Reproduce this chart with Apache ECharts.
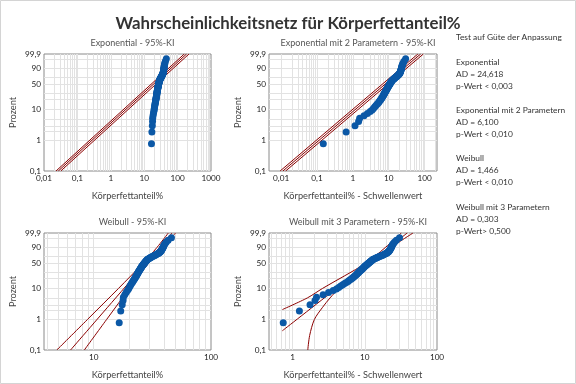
<!DOCTYPE html>
<html><head><meta charset="utf-8">
<script src="https://cdn.jsdelivr.net/npm/echarts@6/dist/echarts.min.js"></script>
<style>html,body{margin:0;padding:0;background:#fff}#c{width:576px;height:384px}</style>
</head><body><div id="c"></div><script>
// ---- data ----
const bodyFat = [16.5,17.0,17.5,17.8,17.9,18.4,18.9,19.4,19.8,20.1,20.4,20.7,21.0,21.3,21.6,21.8,22.1,22.3,22.5,22.7,
22.9,23.1,23.3,23.5,23.6,23.8,23.9,24.1,24.2,24.4,24.6,24.7,24.9,25.0,25.2,25.3,25.5,25.6,25.8,25.9,
26.1,26.3,26.5,26.6,26.8,27.0,27.2,27.3,27.5,27.7,27.9,28.1,28.3,28.5,28.7,28.9,29.4,29.8,30.2,30.5,
30.9,31.4,31.9,32.4,32.9,33.4,33.9,34.4,35.0,35.5,36.0,36.4,36.8,37.0,37.3,37.6,37.8,38.1,38.3,38.5,
38.8,39.0,39.3,39.5,39.8,40.2,40.8,41.6,43.1,46.0];
const thresholdExp2 = 16.35;
const thresholdWeib3 = 15.76;
const percentLabels = [0.1, 1, 10, 50, 90, 99.9];
const percentGrid = [1, 2, 3, 5, 10, 20, 30, 50, 70, 90, 99];
// fitted lines and 95% CI bands, read as [x, percent]
const exp1Fit = [[0.0268, 0.1], [185, 99.9]];
const exp1Lower = [[0.0229, 0.1], [158, 99.9]];
const exp1Upper = [[0.0317, 0.1], [219, 99.9]];
const exp2Fit = [[0.0112, 0.1], [77.4, 99.9]];
const exp2Lower = [[0.0094, 0.1], [65, 99.9]];
const exp2Upper = [[0.0134, 0.1], [92.5, 99.9]];
const weibFit = [[6.35, 0.1], [46.5, 99.9]];
const weibLower = [[4.85, 0.1], [8.85, 1], [16.29, 10], [26.24, 50], [34.58, 90], [43.27, 99.9]];
const weibUpper = [[8.32, 0.1], [12.89, 1], [20.19, 10], [29.27, 50], [38.14, 90], [49.98, 99.9]];
const weib3Fit = [[0.718, 0.425], [38.7, 99.9]];
const weib3Lower = [[0.72, 2.1], [1.6, 5], [2.6, 10], [10.2, 50], [19.2, 90], [32.0, 99.9]];
const weib3Upper = [[1.62, 0.1], [1.72, 0.3], [2.0, 1], [2.6, 2.5], [3.3, 5], [4.4, 10], [11.9, 50], [23.0, 90], [46.5, 99.9]];
const gofText = [
  ['Test auf Güte der Anpassung', 37],
  ['Exponential', 62], ['AD = 24,618', 74], ['p-Wert < 0,003', 86],
  ['Exponential mit 2 Parametern', 110], ['AD = 6,100', 122], ['p-Wert < 0,010', 134],
  ['Weibull', 158], ['AD = 1,466', 170], ['p-Wert < 0,010', 182],
  ['Weibull mit 3 Parametern', 207], ['AD = 0,303', 219], ['p-Wert> 0,500', 231]
];
// ---- chart ----
const U = p => Math.log(-Math.log(1 - p / 100));
const UMIN = U(0.1), UMAX = U(99.9);
const n = bodyFat.length;
const FONT = 'Lato, "Open Sans", sans-serif';
const RED = '#8b0000';
const fmtNum = v => String(parseFloat(v.toPrecision(6))).replace('.', ',');
const fmtPct = u => { let best = percentLabels[0]; percentLabels.forEach(p => { if (Math.abs(U(p) - u) < Math.abs(U(best) - u)) best = p; }); return String(best).replace('.', ','); };

const panels = [
  {left: 44, top: 54, width: 167, height: 117, xmin: 0.01, xmax: 1000, shift: 0, lines: [exp1Lower, exp1Fit, exp1Upper], smooth: false,
   title: 'Exponential - 95%-KI', xName: 'Körperfettanteil%'},
  {left: 269, top: 54, width: 168, height: 117, xmin: 0.0046, xmax: 222, shift: thresholdExp2, lines: [exp2Lower, exp2Fit, exp2Upper], smooth: false,
   title: 'Exponential mit 2 Parametern - 95%-KI', xName: 'Körperfettanteil% - Schwellenwert'},
  {left: 44, top: 233, width: 167, height: 117, xmin: 3.77, xmax: 100, shift: 0, lines: [weibLower, weibFit, weibUpper], smooth: 0.3,
   title: 'Weibull - 95%-KI', xName: 'Körperfettanteil%'},
  {left: 269, top: 233, width: 168, height: 117, xmin: 0.47, xmax: 100, shift: thresholdWeib3, lines: [weib3Lower, weib3Fit, weib3Upper], smooth: 0.3,
   title: 'Weibull mit 3 Parametern - 95%-KI', xName: 'Körperfettanteil% - Schwellenwert'}
];

const grid = [], xAxis = [], yAxis = [], series = [], title = [];
title.push({text: 'Wahrscheinlichkeitsnetz für Körperfettanteil%', left: 283, top: 10, textAlign: 'center',
  textStyle: {fontFamily: FONT, fontSize: 16.8, fontWeight: 'bold', color: '#333'}});
panels.forEach((P, i) => {
  grid.push({left: P.left, top: P.top, width: P.width, height: P.height, show: true, borderColor: '#8a8a8a', borderWidth: 1, backgroundColor: 'transparent'});
  title.push({text: P.title, left: P.left + P.width / 2, top: P.top - 20, textAlign: 'center',
    textStyle: {fontFamily: FONT, fontSize: 9, fontWeight: 'normal', color: '#555'}});
  const decades = [];
  for (let k = Math.floor(Math.log10(P.xmin)); k <= Math.ceil(Math.log10(P.xmax)); k++) decades.push(Math.pow(10, k));
  xAxis.push({type: 'log', logBase: 10, gridIndex: i, min: P.xmin, max: P.xmax,
    axisLine: {show: false}, axisTick: {show: false}, splitLine: {show: false}, minorSplitLine: {show: false},
    axisLabel: {customValues: decades.filter(v => v >= P.xmin * 0.999 && v <= P.xmax * 1.001), formatter: v => fmtNum(v),
      fontFamily: FONT, fontSize: 8.2, color: '#222', margin: 3, showMinLabel: true, showMaxLabel: true, hideOverlap: false},
    name: P.xName, nameLocation: 'middle', nameGap: 21, nameTextStyle: {fontFamily: FONT, fontSize: 9.2, color: '#444'}});
  yAxis.push({type: 'value', gridIndex: i, min: UMIN, max: UMAX,
    axisLine: {show: false}, axisTick: {show: false}, splitLine: {show: false},
    axisLabel: {customValues: percentLabels.map(U), formatter: v => fmtPct(v), fontFamily: FONT, fontSize: 8.2, color: '#222', margin: 3,
      showMinLabel: true, showMaxLabel: true, hideOverlap: false},
    name: 'Prozent', nameLocation: 'middle', nameGap: 26, nameTextStyle: {fontFamily: FONT, fontSize: 9.2, color: '#444'}});
  const ml = [];
  decades.forEach(d => { for (let m = 1; m <= 9; m++) { const v = d * m; if (v > P.xmin * 1.0001 && v < P.xmax * 0.9999) ml.push({xAxis: v}); } });
  percentGrid.forEach(p => ml.push({yAxis: U(p)}));
  series.push({type: 'line', xAxisIndex: i, yAxisIndex: i, data: [[P.xmin, UMIN]], symbol: 'none', lineStyle: {opacity: 0}, silent: true, z: 1,
    markLine: {silent: true, z: 1, symbol: ['none', 'none'], label: {show: false}, lineStyle: {color: '#e2e2e2', width: 1, type: 'solid'}, data: ml, animation: false}});
  P.lines.forEach(L => series.push({type: 'line', xAxisIndex: i, yAxisIndex: i, data: L.map(([x, p]) => [x, U(p)]), smooth: P.smooth,
    symbol: 'none', lineStyle: {color: RED, width: 1}, z: 3, clip: true}));
  series.push({type: 'scatter', xAxisIndex: i, yAxisIndex: i, symbolSize: 7, itemStyle: {color: '#0b58a6', opacity: 1}, z: 4,
    data: bodyFat.map((d, j) => [d - P.shift, U(100 * (j + 1 - 0.3) / (n + 0.4))])});
});
const graphic = [{type: 'rect', shape: {x: 0.5, y: 0.5, width: 575, height: 383}, style: {fill: 'none', stroke: '#d4d4d4', lineWidth: 1}, silent: true}];
gofText.forEach(([t, y]) => graphic.push({type: 'text', x: 456, y: y, style: {text: t, fontFamily: FONT, fontSize: 8.4, fill: '#333', textVerticalAlign: 'middle'}}));
const chart = echarts.init(document.getElementById('c'), null, {renderer: 'canvas'});
chart.setOption({animation: false, backgroundColor: '#fff', title, grid, xAxis, yAxis, series, graphic});
</script></body></html>
